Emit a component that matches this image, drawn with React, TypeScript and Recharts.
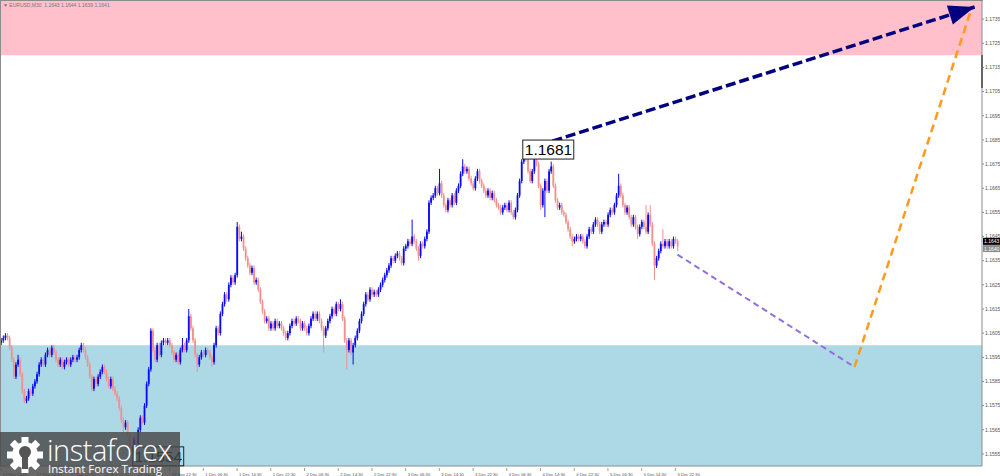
import React from "react"
import {
  ComposedChart,
  Bar,
  Line,
  XAxis,
  YAxis,
  ReferenceArea,
  ReferenceDot,
  ReferenceLine,
} from "recharts"

// EURUSD M30, one entry per bar starting 27 Nov 06:30.
// Prices are stored in pips above 1.1500 (1 pip = 0.0001).
const BASE = 1.15

const opens = [
  101, 102, 103, 104, 103, 99, 94, 87, 92, 94,
  88, 81, 77, 78, 81, 80, 83, 85, 88, 92,
  94, 92, 96, 98, 96, 99, 97, 94, 92, 94,
  91, 93, 94, 92, 94, 95, 94, 95, 98, 100,
  98, 95, 92, 87, 82, 86, 84, 87, 89, 91,
  89, 86, 83, 86, 82, 80, 78, 74, 69, 66,
  68, 63, 58, 56, 61, 59, 65, 70, 68, 75,
  84, 90, 106, 98, 94, 100, 96, 101, 102, 101,
  102, 100, 97, 94, 96, 93, 98, 100, 98, 102,
  112, 107, 102, 96, 92, 95, 97, 96, 98, 97,
  95, 93, 100, 107, 105, 113, 117, 121, 119, 125,
  128, 126, 129, 149, 144, 145, 140, 136, 133, 130,
  132, 126, 127, 123, 118, 114, 110, 111, 107, 109,
  107, 110, 108, 109, 107, 105, 103, 105, 108, 110,
  109, 111, 110, 107, 109, 107, 105, 108, 111, 113,
  111, 113, 110, 107, 104, 107, 110, 112, 115, 113,
  117, 115, 117, 111, 102, 98, 102, 97, 100, 103,
  106, 110, 113, 117, 121, 119, 123, 121, 122, 121,
  123, 125, 127, 129, 131, 133, 136, 135, 137, 138,
  136, 134, 140, 141, 143, 142, 145, 143, 140, 137,
  142, 141, 144, 147, 159, 161, 162, 165, 163, 167,
  162, 158, 156, 160, 158, 162, 159, 164, 166, 171,
  174, 172, 173, 169, 167, 165, 169, 172, 168, 166,
  164, 162, 164, 161, 163, 160, 158, 157, 155, 157,
  158, 156, 159, 155, 153, 156, 162, 168, 176, 179,
  177, 172, 168, 172, 177, 175, 166, 158, 164, 168,
  164, 172, 174, 166, 160, 157, 158, 155, 154, 151,
  148, 145, 143, 144, 145, 144, 145, 143, 141, 145,
  148, 147, 150, 152, 150, 147, 150, 151, 150, 154,
  156, 155, 158, 162, 166, 162, 158, 155, 157, 153,
  150, 153, 149, 146, 149, 151, 149, 147, 154, 150,
  142, 133, 136, 139, 142, 141, 143, 141, 143, 141,
  144, 143,
]

const highs = [
  103, 104, 105, 105, 104, 100, 95, 93, 96, 95,
  89, 82, 79, 82, 82, 84, 86, 89, 93, 95,
  95, 97, 99, 99, 100, 100, 98, 95, 95, 95,
  94, 95, 95, 95, 96, 96, 96, 99, 101, 101,
  99, 96, 93, 88, 87, 87, 88, 90, 92, 92,
  90, 87, 87, 87, 83, 81, 79, 75, 70, 69,
  69, 64, 59, 62, 62, 66, 71, 71, 76, 85,
  91, 107, 107, 99, 101, 101, 102, 103, 103, 103,
  103, 101, 98, 97, 97, 99, 103, 101, 103, 115,
  113, 108, 103, 97, 96, 98, 98, 99, 99, 98,
  96, 101, 108, 108, 114, 118, 122, 122, 126, 129,
  129, 130, 151, 150, 147, 146, 141, 137, 134, 133,
  133, 128, 128, 124, 119, 115, 112, 112, 110, 110,
  111, 111, 110, 110, 108, 106, 106, 109, 111, 111,
  112, 112, 111, 110, 110, 108, 109, 112, 114, 114,
  114, 114, 111, 108, 108, 111, 113, 116, 116, 118,
  118, 119, 118, 112, 103, 103, 103, 101, 104, 107,
  111, 114, 118, 122, 122, 124, 124, 123, 123, 124,
  126, 128, 130, 132, 134, 137, 137, 138, 139, 139,
  137, 141, 142, 144, 144, 152, 146, 144, 141, 143,
  143, 145, 148, 160, 162, 163, 166, 166, 173, 168,
  163, 159, 161, 161, 163, 163, 165, 167, 172, 177,
  175, 174, 174, 170, 168, 170, 173, 173, 169, 167,
  165, 165, 165, 164, 164, 161, 159, 158, 158, 159,
  159, 160, 160, 156, 157, 163, 169, 177, 180, 181,
  178, 173, 173, 178, 178, 176, 167, 165, 169, 169,
  173, 176, 175, 167, 161, 159, 159, 156, 155, 152,
  149, 146, 145, 146, 146, 146, 146, 144, 146, 149,
  149, 151, 153, 153, 151, 151, 152, 152, 155, 157,
  157, 159, 163, 171, 167, 163, 159, 158, 158, 154,
  154, 154, 150, 150, 152, 152, 158, 155, 158, 151,
  143, 137, 140, 143, 148, 144, 144, 144, 144, 145,
  145, 144,
]

const lows = [
  100, 101, 102, 102, 98, 93, 86, 86, 91, 87,
  80, 76, 76, 77, 79, 79, 82, 84, 87, 91,
  91, 91, 95, 95, 95, 96, 93, 91, 91, 90,
  90, 92, 91, 91, 93, 93, 93, 94, 97, 97,
  94, 91, 86, 81, 81, 83, 83, 86, 88, 88,
  85, 82, 82, 81, 79, 77, 73, 68, 64, 65,
  62, 57, 54, 55, 58, 58, 64, 67, 67, 74,
  83, 89, 97, 93, 93, 95, 95, 100, 100, 100,
  99, 96, 93, 93, 92, 92, 97, 97, 97, 101,
  106, 101, 95, 89, 91, 94, 95, 95, 96, 94,
  91, 92, 99, 104, 104, 112, 116, 118, 118, 124,
  125, 125, 128, 143, 143, 139, 135, 132, 129, 129,
  125, 125, 122, 117, 113, 109, 109, 106, 106, 106,
  106, 107, 107, 106, 104, 102, 102, 104, 107, 108,
  108, 109, 106, 106, 106, 104, 104, 107, 110, 110,
  110, 109, 106, 97, 103, 106, 109, 111, 112, 112,
  114, 114, 110, 101, 90, 97, 96, 92, 99, 102,
  105, 109, 112, 116, 118, 118, 120, 120, 120, 120,
  122, 124, 126, 128, 130, 132, 134, 134, 136, 135,
  133, 133, 139, 140, 141, 141, 142, 139, 135, 136,
  140, 140, 143, 146, 158, 160, 161, 162, 162, 161,
  157, 155, 155, 157, 157, 158, 158, 163, 165, 170,
  171, 171, 168, 166, 164, 164, 168, 167, 165, 163,
  161, 161, 160, 160, 159, 157, 156, 154, 154, 156,
  155, 155, 154, 152, 152, 155, 161, 167, 175, 176,
  171, 167, 167, 171, 174, 165, 156, 157, 153, 163,
  163, 171, 165, 159, 156, 156, 154, 153, 150, 147,
  144, 141, 142, 143, 143, 143, 142, 140, 140, 144,
  146, 146, 149, 149, 146, 146, 149, 149, 149, 153,
  154, 154, 157, 161, 161, 157, 154, 154, 152, 149,
  149, 148, 144, 145, 148, 148, 146, 146, 149, 141,
  127, 132, 135, 138, 140, 140, 140, 140, 140, 140,
  142, 139,
]

const closes = [
  102, 103, 104, 103, 99, 94, 87, 92, 94, 88,
  81, 77, 78, 81, 80, 83, 85, 88, 92, 94,
  92, 96, 98, 96, 99, 97, 94, 92, 94, 91,
  93, 94, 92, 94, 95, 94, 95, 98, 100, 98,
  95, 92, 87, 82, 86, 84, 87, 89, 91, 89,
  86, 83, 86, 82, 80, 78, 74, 69, 66, 68,
  63, 58, 56, 61, 59, 65, 70, 68, 75, 84,
  90, 106, 98, 94, 100, 96, 101, 102, 101, 102,
  100, 97, 94, 96, 93, 98, 100, 98, 102, 112,
  107, 102, 96, 92, 95, 97, 96, 98, 97, 95,
  93, 100, 107, 105, 113, 117, 121, 119, 125, 128,
  126, 129, 149, 144, 145, 140, 136, 133, 130, 132,
  126, 127, 123, 118, 114, 110, 111, 107, 109, 107,
  110, 108, 109, 107, 105, 103, 105, 108, 110, 109,
  111, 110, 107, 109, 107, 105, 108, 111, 113, 111,
  113, 110, 107, 104, 107, 110, 112, 115, 113, 117,
  115, 117, 111, 102, 98, 102, 97, 100, 103, 106,
  110, 113, 117, 121, 119, 123, 121, 122, 121, 123,
  125, 127, 129, 131, 133, 136, 135, 137, 138, 136,
  134, 140, 141, 143, 142, 145, 143, 140, 137, 142,
  141, 144, 147, 159, 161, 162, 165, 163, 167, 162,
  158, 156, 160, 158, 162, 159, 164, 166, 171, 174,
  172, 173, 169, 167, 165, 169, 172, 168, 166, 164,
  162, 164, 161, 163, 160, 158, 157, 155, 157, 158,
  156, 159, 155, 153, 156, 162, 168, 176, 179, 177,
  172, 168, 172, 177, 175, 166, 158, 164, 168, 164,
  172, 174, 166, 160, 157, 158, 155, 154, 151, 148,
  145, 143, 144, 145, 144, 145, 143, 141, 145, 148,
  147, 150, 152, 150, 147, 150, 151, 150, 154, 156,
  155, 158, 162, 166, 162, 158, 155, 157, 153, 150,
  153, 149, 146, 149, 151, 149, 147, 154, 150, 142,
  133, 136, 139, 142, 141, 143, 141, 143, 141, 144,
  143, 141,
]

// time labels, one every 16 bars (8 hours)
const timeLabels = [
  "27 Nov 2025", "27 Nov 14:30", "27 Nov 22:30", "28 Nov 06:30", "28 Nov 14:30",
  "28 Nov 22:30", "1 Dec 06:30", "1 Dec 14:30", "1 Dec 22:30", "2 Dec 06:30",
  "2 Dec 14:30", "2 Dec 22:30", "3 Dec 06:30", "3 Dec 14:30", "3 Dec 22:30",
  "4 Dec 06:30", "4 Dec 14:30", "4 Dec 22:30", "5 Dec 06:30", "5 Dec 14:30",
  "5 Dec 22:30",
]
const LABEL_EVERY = 16

const priceTicks = [
  1.1555, 1.1565, 1.1575, 1.1585, 1.1595, 1.1605, 1.1615, 1.1625, 1.1635, 1.1645,
  1.1655, 1.1665, 1.1675, 1.1685, 1.1695, 1.1705, 1.1715, 1.1725, 1.1735,
]

// forecast waves: [bar index, price]
const purpleWave = [[321, 1.16375], [405, 1.1591]]
const orangeWave = [[405, 1.1591], [460, 1.1738]]
const navyWave = [[249, 1.1681], [462, 1.174]]

// zones
const sellZone = [1.172, 1.17425]
const buyZone = [1.155, 1.16]

const extremes = [
  { i: 249, v: 1.1681, text: "1.1681", dx: -3, fill: "#fff" },
  { i: 62, v: 1.1554, text: "1.1554", dx: 1, fill: "none" },
]

const quote = { bid: 1.1643, last: 1.164 }

const SLOTS = 466 // bars visible incl. empty space on the right
const Y_MIN = 1.155
const Y_MAX = 1.17425
const BULL = "#0a0af5"
const BEAR = "#f29090"

const waveAt = (wave: number[][], i: number) => {
  const p = wave.find((w) => w[0] === i)
  return p ? p[1] : null
}

const rows = Array.from({ length: SLOTS }, (_, i) => {
  const has = i < closes.length
  return {
    i,
    o: has ? BASE + opens[i] / 1e4 : null,
    h: has ? BASE + highs[i] / 1e4 : null,
    l: has ? BASE + lows[i] / 1e4 : null,
    c: has ? BASE + closes[i] / 1e4 : null,
    range: has ? [BASE + lows[i] / 1e4, BASE + highs[i] / 1e4] : null,
    purple: waveAt(purpleWave, i),
    orange: waveAt(orangeWave, i),
    navy: waveAt(navyWave, i),
  }
})

function Candle(props: any) {
  const { x, y, width, height, payload } = props
  if (!payload || payload.o == null || y == null) return <g />
  const top = Math.min(y, y + height)
  const h = Math.abs(height)
  const span = payload.h - payload.l
  const toY = (v: number) => (span === 0 ? top : top + ((payload.h - v) / span) * h)
  const cx = x + width / 2
  const color = payload.c >= payload.o ? BULL : BEAR
  const bTop = toY(Math.max(payload.o, payload.c))
  const bBot = toY(Math.min(payload.o, payload.c))
  return (
    <g>
      <line x1={cx} x2={cx} y1={top} y2={top + h} stroke={color} strokeWidth={1} />
      <rect x={cx - 0.9} y={bTop} width={1.8} height={Math.max(1, bBot - bTop)} fill={color} />
    </g>
  )
}

function TimeTick(props: any) {
  const { x, y, payload } = props
  const i = payload?.value
  if (i % LABEL_EVERY !== 0 || !timeLabels[i / LABEL_EVERY]) return <g />
  return (
    <g>
      <line x1={x} x2={x} y1={y} y2={y + 3} stroke="#888" strokeWidth={0.8} />
      <text x={x + 2} y={y + 7.5} fontSize={4.2} fill="#555" fontFamily="'Liberation Sans', Arial, sans-serif">
        {timeLabels[i / LABEL_EVERY]}
      </text>
    </g>
  )
}

let navyStart: { x: number; y: number } | null = null
function ArrowHead(props: any) {
  const { cx, cy, index, points } = props
  if (cx == null || cy == null) return <g key={`n${index}`} />
  const pts: any[] = points || []
  const first = pts.find((p) => p && p.y != null && p.x != null)
  if (index !== navyWave[navyWave.length - 1][0]) {
    navyStart = { x: cx, y: cy }
    return <g key={`n${index}`} />
  }
  const s = first && first.x !== cx ? first : navyStart
  if (!s) return <g key={`n${index}`} />
  const a = Math.atan2(cy - s.y, cx - s.x)
  const len = 26
  const half = 10
  const bx = cx - len * Math.cos(a)
  const by = cy - len * Math.sin(a)
  const px = -Math.sin(a) * half
  const py = Math.cos(a) * half
  return (
    <polygon
      key={`n${index}`}
      points={`${cx},${cy} ${bx + px},${by + py} ${bx - px},${by - py}`}
      fill="#000080"
    />
  )
}

function PriceBox(props: any) {
  const { cx, cy, text, dx, fill } = props
  return (
    <g>
      <rect x={cx + dx} y={cy - 9.5} width={51} height={19} fill={fill} stroke="#222" strokeWidth={1} />
      <text x={cx + dx + 2} y={cy + 5.5} fontSize={15.5} fill="#000" fontFamily="'Liberation Sans', Arial, sans-serif">
        {text}
      </text>
    </g>
  )
}

function QuoteTag(props: any, text: string, bg: string) {
  const vb = props.viewBox || {}
  const x = (vb.x || 0) + (vb.width || 0) + 1
  const y = vb.y || 0
  return (
    <g>
      <rect x={x} y={y - 3.5} width={18} height={7} fill={bg} />
      <text x={x + 1} y={y + 2} fontSize={5} fill="#fff" fontFamily="'Liberation Sans', Arial, sans-serif">
        {text}
      </text>
    </g>
  )
}

export default function App() {
  return (
    <div
      style={{
        position: "absolute",
        left: 0,
        top: 0,
        width: 1000,
        height: 476,
        background: "#fff",
        overflow: "hidden",
        fontFamily: "'Liberation Sans', Arial, sans-serif",
      }}
    >
      <ComposedChart
        width={1000}
        height={476}
        data={rows}
        margin={{ top: 1, right: 0, bottom: 0, left: 0 }}
        barCategoryGap="10%"
      >
        <ReferenceArea y1={sellZone[0]} y2={sellZone[1]} fill="#ffc0cb" fillOpacity={1} stroke="none" />
        <ReferenceArea y1={buyZone[0]} y2={buyZone[1]} fill="#add8e6" fillOpacity={1} stroke="none" />
        <XAxis
          dataKey="i"
          type="category"
          interval={LABEL_EVERY - 1}
          height={10}
          tickLine={false}
          tickSize={0}
          axisLine={{ stroke: "#8c8c8c" }}
          tick={(p: any) => <TimeTick {...p} />}
        />
        <YAxis
          orientation="right"
          width={18}
          domain={[Y_MIN, Y_MAX]}
          allowDataOverflow
          ticks={priceTicks}
          interval={0}
          tickSize={2}
          tickMargin={1}
          axisLine={{ stroke: "#8c8c8c" }}
          tickLine={{ stroke: "#8c8c8c" }}
          tick={{ fontSize: 5, fill: "#555", fontFamily: "'Liberation Sans', Arial, sans-serif" }}
          tickFormatter={(v: number) => v.toFixed(4)}
        />
        <Bar dataKey="range" shape={Candle} isAnimationActive={false} />
        <Line
          dataKey="purple"
          stroke="#9370db"
          strokeWidth={2}
          strokeDasharray="6 4"
          dot={false}
          activeDot={false}
          connectNulls
          isAnimationActive={false}
        />
        <Line
          dataKey="orange"
          stroke="#ff9a1a"
          strokeWidth={2.5}
          strokeDasharray="8 5"
          dot={false}
          activeDot={false}
          connectNulls
          isAnimationActive={false}
        />
        <Line
          dataKey="navy"
          stroke="#000080"
          strokeWidth={3.5}
          strokeDasharray="10 4"
          dot={ArrowHead}
          activeDot={false}
          connectNulls
          isAnimationActive={false}
        />
        {extremes.map((e) => (
          <ReferenceDot
            key={e.text}
            x={e.i}
            y={e.v}
            r={0}
            shape={(p: any) => <PriceBox {...p} text={e.text} dx={e.dx} fill={e.fill} />}
          />
        ))}
        <ReferenceLine y={quote.bid} stroke="none" label={(p: any) => QuoteTag(p, quote.bid.toFixed(4), "#000")} />
        <ReferenceLine y={quote.last} stroke="none" label={(p: any) => QuoteTag(p, quote.last.toFixed(4), "#8a8a8a")} />
      </ComposedChart>

      {/* chart frame (top / left) */}
      <div
        style={{
          position: "absolute",
          left: 0,
          top: 0,
          width: 982,
          height: 466,
          borderLeft: "1px solid #8c8c8c",
          borderTop: "1px solid #8c8c8c",
          pointerEvents: "none",
        }}
      />
      <div style={{ position: "absolute", left: 981, top: 55, width: 2, height: 33, background: "#666" }} />

      <div
        style={{
          position: "absolute",
          left: 3,
          top: 2,
          fontSize: 5,
          color: "#777",
          whiteSpace: "nowrap",
          lineHeight: "6px",
        }}
      >
        ▼ EURUSD,M30&nbsp; 1.1643 1.1644 1.1639 1.1641
      </div>

      {/* watermark */}
      <div
        style={{
          position: "absolute",
          left: 0,
          top: 432,
          width: 180,
          height: 44,
          background: "rgba(72,72,72,0.82)",
          color: "#fff",
        }}
      >
        <svg width={40} height={40} style={{ position: "absolute", left: 5, top: 3 }}>
          <g transform="translate(20,20)" fill="#fff">
            {[0, 45, 90, 135, 180, 225, 270, 315].map((d) => (
              <rect key={d} x={-3.5} y={-18} width={7} height={8} transform={`rotate(${d})`} />
            ))}
            <circle r={13} />
            <circle r={6} cy={-3} fill="#555" />
            <rect x={-3} y={2} width={6} height={12} fill="#555" />
          </g>
        </svg>
        <div
          style={{
            position: "absolute",
            left: 47,
            top: -2,
            fontSize: 29,
            fontWeight: 300,
            fontFamily: "'Open Sans', 'Liberation Sans', sans-serif",
            letterSpacing: -0.5,
          }}
        >
          instaforex
        </div>
        <div
          style={{
            position: "absolute",
            left: 48,
            top: 29,
            fontSize: 11.5,
            fontFamily: "'Open Sans', 'Liberation Sans', sans-serif",
          }}
        >
          Instant Forex Trading
        </div>
      </div>
    </div>
  )
}
